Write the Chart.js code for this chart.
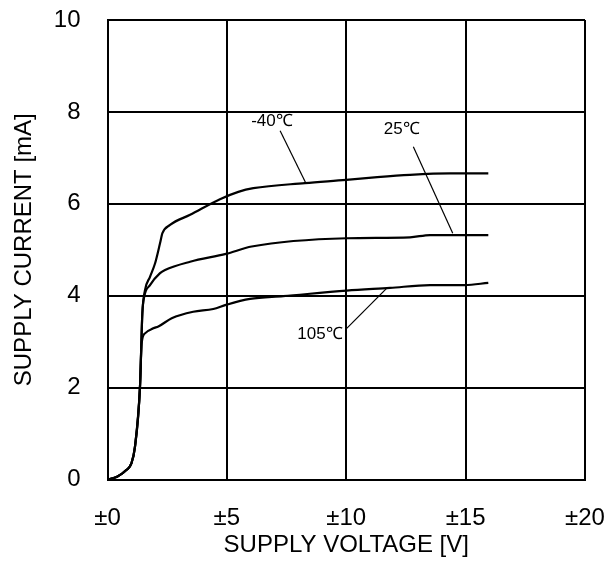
<!DOCTYPE html>
<html>
<head>
<meta charset="utf-8">
<script src="https://cdn.jsdelivr.net/npm/chart.js@4"></script>
<style>
  html, body { margin: 0; padding: 0; background: #fff; }
  #wrap { width: 614px; height: 565px; position: relative; }
</style>
</head>
<body>
<div id="wrap"><canvas id="supplyChart"></canvas></div>
<script>
// supply voltage [V] / supply current [mA] per temperature
const voltM40 = [0, 0.4, 0.8, 1.0, 1.15, 1.36, 1.46, 1.57, 1.78, 1.99, 2.20, 2.30, 2.62, 3.46, 4.71, 5.48, 6.11, 8.27, 10.0, 11.3, 12.67, 14.35, 15.95];
const currM40 = [0, 0.06, 0.21, 0.35, 0.71, 2.01, 3.62, 4.12, 4.41, 4.70, 5.14, 5.36, 5.54, 5.76, 6.10, 6.26, 6.34, 6.45, 6.52, 6.58, 6.63, 6.66, 6.66];

const volt25 = [0, 0.4, 0.8, 1.0, 1.15, 1.36, 1.46, 1.54, 1.78, 2.20, 2.41, 3.46, 4.96, 6.04, 10.02, 12.67, 13.51, 15.95];
const curr25 = [0, 0.06, 0.21, 0.35, 0.71, 2.01, 3.62, 3.98, 4.23, 4.49, 4.56, 4.74, 4.91, 5.07, 5.25, 5.27, 5.32, 5.32];

const volt105 = [0, 0.4, 0.8, 1.0, 1.15, 1.36, 1.43, 1.57, 1.92, 2.13, 2.69, 3.59, 4.43, 4.96, 5.97, 7.36, 10.02, 11.83, 13.51, 14.97, 15.95];
const curr105 = [0, 0.06, 0.21, 0.35, 0.71, 2.01, 2.96, 3.18, 3.29, 3.33, 3.51, 3.65, 3.71, 3.80, 3.93, 3.99, 4.11, 4.17, 4.23, 4.23, 4.28];

const xTicks = [0, 5, 10, 15, 20];
const yTicks = [0, 2, 4, 6, 8, 10];

// curve labels and their leader lines (data coordinates)
const labelText = ["-40℃", "25℃", "105℃"];
const labelV = [6.89, 12.32, 8.90];
const labelI = [7.80, 7.63, 3.17];
const leaderV = [[7.23, 8.30], [12.81, 14.46], [10.02, 11.69]];
const leaderI = [[7.59, 6.46], [7.24, 5.36], [3.29, 4.16]];

const toPoints = (xs, ys) => xs.map((x, i) => ({ x: x, y: ys[i] }));

const curveStyle = {
  borderColor: "#000",
  borderWidth: 2.2,
  pointRadius: 0,
  showLine: true,
  fill: false,
  cubicInterpolationMode: "monotone"
};

const datasets = [
  { label: "-40℃", data: toPoints(voltM40, currM40), ...curveStyle },
  { label: "25℃", data: toPoints(volt25, curr25), ...curveStyle },
  { label: "105℃", data: toPoints(volt105, curr105), ...curveStyle }
];

leaderV.forEach((xs, i) => {
  datasets.push({
    label: "leader " + labelText[i],
    data: toPoints(xs, leaderI[i]),
    borderColor: "#000",
    borderWidth: 1.2,
    pointRadius: 0,
    showLine: true,
    fill: false
  });
});

const curveLabels = {
  id: "curveLabels",
  afterDatasetsDraw(chart) {
    const ctx = chart.ctx;
    const xs = chart.scales.x, ys = chart.scales.y;
    ctx.save();
    ctx.fillStyle = "#000";
    ctx.font = "17px 'Liberation Sans', Arial, sans-serif";
    ctx.textAlign = "center";
    ctx.textBaseline = "middle";
    labelText.forEach((t, i) => {
      ctx.fillText(t, xs.getPixelForValue(labelV[i]), ys.getPixelForValue(labelI[i]));
    });
    ctx.restore();
  }
};

const tickFont = { family: "'Liberation Sans', Arial, sans-serif", size: 24 };

new Chart(document.getElementById("supplyChart"), {
  type: "scatter",
  data: { datasets },
  plugins: [curveLabels],
  options: {
    responsive: true,
    maintainAspectRatio: false,
    animation: false,
    devicePixelRatio: 1,
    layout: { padding: { top: 20, right: 29, left: 0, bottom: 0 } },
    plugins: {
      legend: { display: false },
      tooltip: { enabled: false }
    },
    scales: {
      x: {
        type: "linear",
        min: 0,
        max: 20,
        afterFit: scale => {
          scale.height = 85.5;
          scale.paddingLeft = 0;
          scale.paddingRight = 0;
        },
        afterBuildTicks: scale => { scale.ticks = xTicks.map(v => ({ value: v })); },
        ticks: {
          color: "#000",
          font: tickFont,
          padding: 24,
          maxRotation: 0,
          callback: v => "±" + v
        },
        grid: { color: "#000", lineWidth: 2, drawTicks: false },
        border: { color: "#000", width: 2 },
        title: {
          display: true,
          text: "SUPPLY VOLTAGE [V]",
          color: "#000",
          font: tickFont,
          padding: { top: 0, bottom: 5 }
        }
      },
      y: {
        type: "linear",
        min: 0,
        max: 10,
        afterFit: scale => {
          scale.width = 107.5;
          scale.paddingTop = 0;
          scale.paddingBottom = 0;
        },
        afterBuildTicks: scale => { scale.ticks = yTicks.map(v => ({ value: v })); },
        ticks: {
          color: "#000",
          font: tickFont,
          padding: 27
        },
        grid: { color: "#000", lineWidth: 2, drawTicks: false },
        border: { color: "#000", width: 2 },
        title: {
          display: true,
          text: "SUPPLY CURRENT [mA]",
          color: "#000",
          font: tickFont,
          padding: { top: 10, bottom: 0 }
        }
      }
    }
  }
});
</script>
</body>
</html>
